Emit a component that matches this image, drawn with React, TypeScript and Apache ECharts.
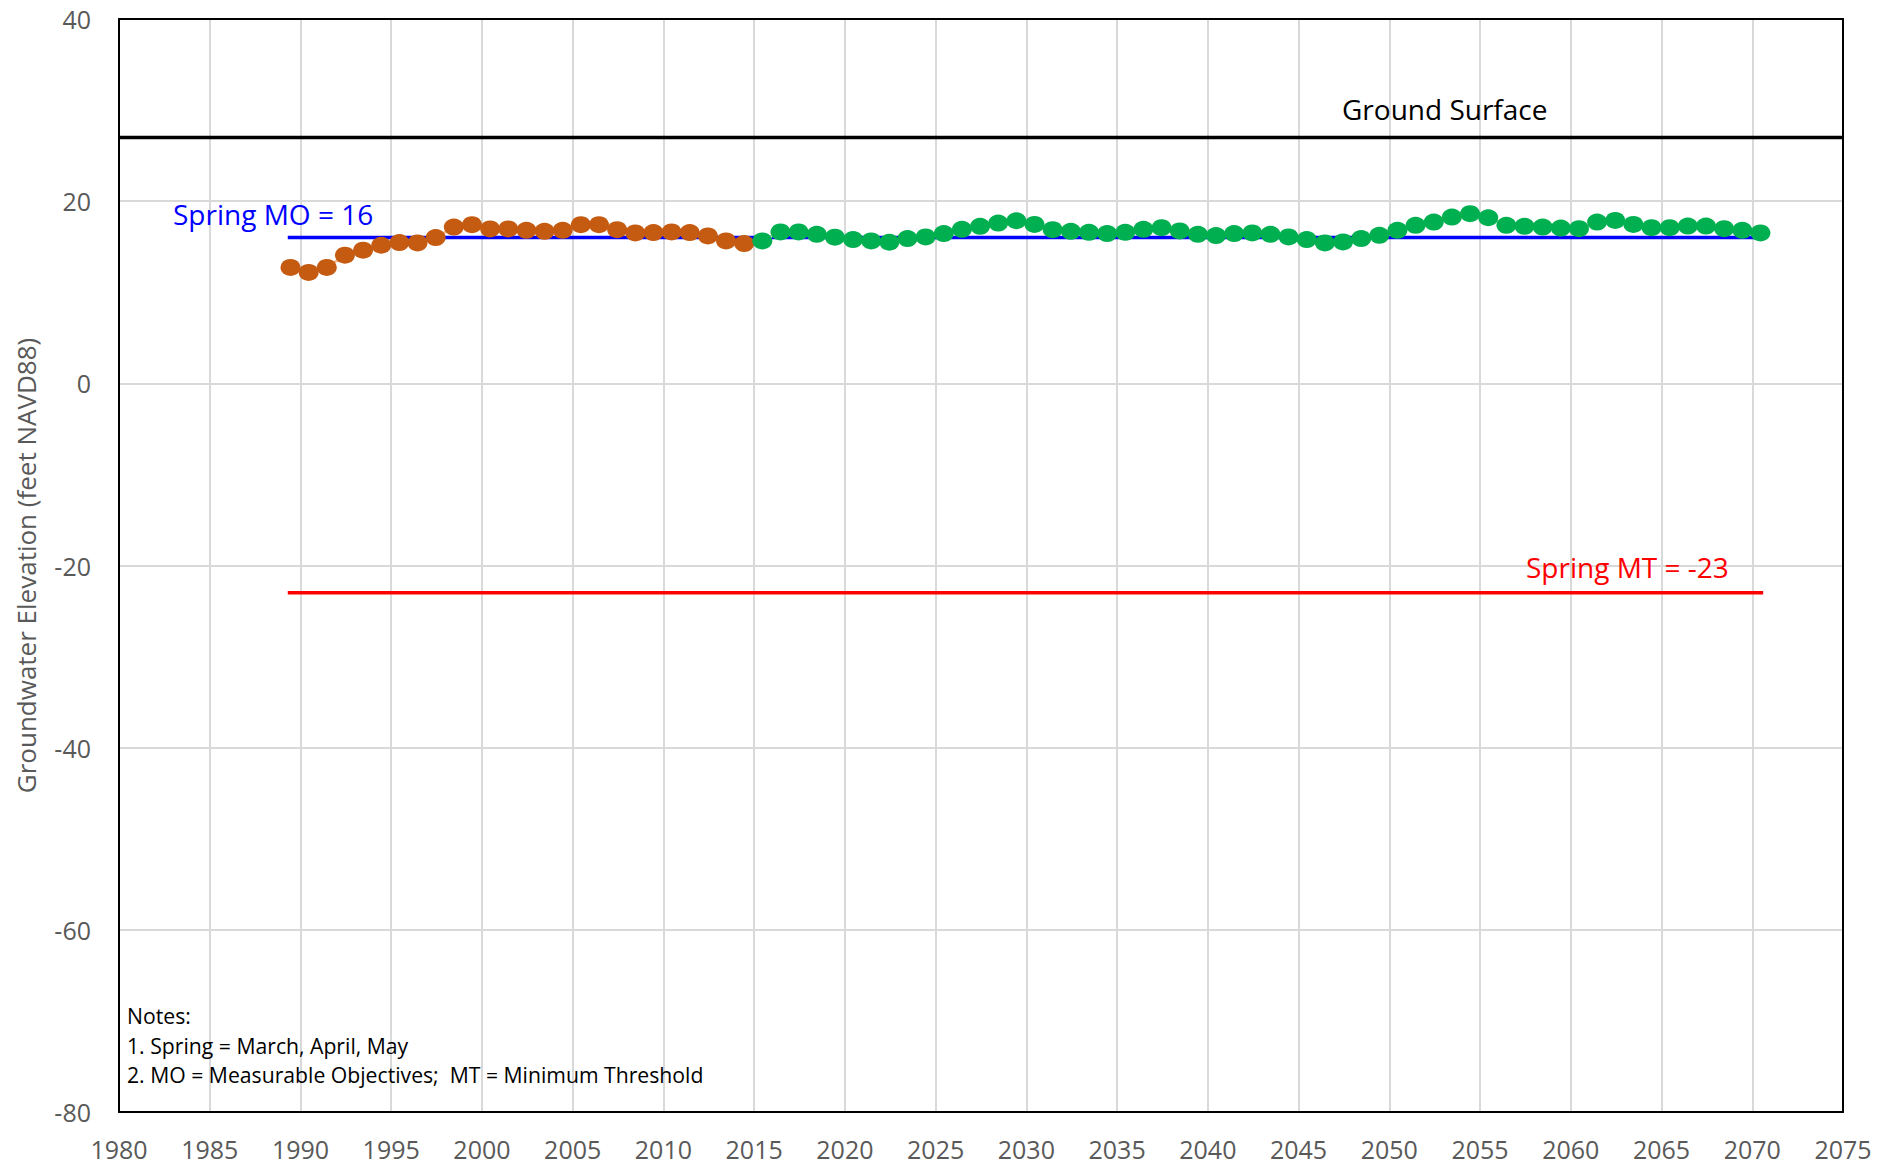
import React, { useEffect, useRef } from "react";
import * as echarts from "echarts";

// ---- Data ----
const historicalYears: number[] = [
  1989, 1990, 1991, 1992, 1993, 1994, 1995, 1996, 1997, 1998, 1999, 2000, 2001,
  2002, 2003, 2004, 2005, 2006, 2007, 2008, 2009, 2010, 2011, 2012, 2013, 2014,
];
const historicalValues: number[] = [
  12.73, 12.18, 12.73, 14.07, 14.62, 15.16, 15.45, 15.42, 16.0, 17.16, 17.42, 16.95, 16.95,
  16.8, 16.69, 16.8, 17.42, 17.42, 16.87, 16.51, 16.55, 16.62, 16.55, 16.18, 15.64, 15.35,
];
const projectedYears: number[] = [
  2015, 2016, 2017, 2018, 2019, 2020, 2021, 2022, 2023, 2024, 2025, 2026, 2027, 2028,
  2029, 2030, 2031, 2032, 2033, 2034, 2035, 2036, 2037, 2038, 2039, 2040, 2041, 2042,
  2043, 2044, 2045, 2046, 2047, 2048, 2049, 2050, 2051, 2052, 2053, 2054, 2055, 2056,
  2057, 2058, 2059, 2060, 2061, 2062, 2063, 2064, 2065, 2066, 2067, 2068, 2069, 2070,
];
const projectedValues: number[] = [
  15.64, 16.62, 16.62, 16.36, 16.04, 15.78, 15.64, 15.49, 15.89, 16.07, 16.44, 16.91, 17.24, 17.6,
  17.85, 17.45, 16.87, 16.69, 16.58, 16.44, 16.58, 16.91, 17.09, 16.73, 16.36, 16.22, 16.44, 16.51,
  16.36, 16.07, 15.78, 15.42, 15.53, 15.89, 16.25, 16.8, 17.35, 17.71, 18.25, 18.62, 18.18, 17.35,
  17.24, 17.16, 17.05, 16.98, 17.71, 17.89, 17.45, 17.09, 17.09, 17.27, 17.27, 16.98, 16.8, 16.51,
];
// Spring measurements fall part-way into each year
const sampleOffset = 0.45;

const groundSurface = 27;
const springMO = 16;
const springMT = -23;
const thresholdStart = 1989.3;
const thresholdEnd = 2070.6;

const xTicks = { min: 1980, max: 2075, interval: 5 };
const yTicks = { min: -80, max: 40, interval: 20 };

const notes: string[] = [
  "Notes:",
  "1. Spring = March, April, May",
  "2. MO = Measurable Objectives;  MT = Minimum Threshold",
];

const FONT = "'Open Sans', 'Noto Sans', sans-serif";

export default function App() {
  const ref = useRef<HTMLDivElement>(null);

  useEffect(() => {
    if (!ref.current) return;
    const chart = echarts.init(ref.current, null, { renderer: "svg" });

    const hist = historicalYears.map((y, i) => [y + sampleOffset, historicalValues[i]]);
    const proj = projectedYears.map((y, i) => [y + sampleOffset, projectedValues[i]]);

    const borderAxis = {
      type: "value",
      axisLine: { show: true, onZero: false, lineStyle: { color: "#000000", width: 2 } },
      axisTick: { show: false },
      axisLabel: { show: false },
      splitLine: { show: false },
    };

    const option: any = {
      animation: false,
      backgroundColor: "#ffffff",
      grid: {
        left: 119,
        right: 53,
        top: 19,
        bottom: 55,
        containLabel: false,
      },
      xAxis: [
        {
          type: "value",
          min: xTicks.min,
          max: xTicks.max,
          interval: xTicks.interval,
          position: "bottom",
          axisLine: { show: true, onZero: false, lineStyle: { color: "#000000", width: 2 } },
          axisTick: { show: false },
          axisLabel: {
            color: "#595959",
            fontFamily: FONT,
            fontSize: 25,
            margin: 24,
            formatter: (v: number) => String(v),
          },
          splitLine: { show: true, lineStyle: { color: "#d9d9d9", width: 2 } },
          z: 1,
        },
        { ...borderAxis, position: "top", min: xTicks.min, max: xTicks.max, z: 2 },
      ],
      yAxis: [
        {
          type: "value",
          min: yTicks.min,
          max: yTicks.max,
          interval: yTicks.interval,
          position: "left",
          name: "Groundwater Elevation (feet NAVD88)",
          nameLocation: "middle",
          nameGap: 80,
          nameTextStyle: { color: "#595959", fontFamily: FONT, fontSize: 26 },
          axisLine: { show: true, onZero: false, lineStyle: { color: "#000000", width: 2 } },
          axisTick: { show: false },
          axisLabel: { color: "#595959", fontFamily: FONT, fontSize: 25, margin: 28 },
          splitLine: { show: true, lineStyle: { color: "#d9d9d9", width: 2 } },
          z: 1,
        },
        { ...borderAxis, position: "right", min: yTicks.min, max: yTicks.max, z: 2 },
      ],
      series: [
        {
          name: "Ground Surface",
          type: "line",
          data: [
            [xTicks.min, groundSurface],
            [xTicks.max, groundSurface],
          ],
          symbol: "none",
          lineStyle: { color: "#000000", width: 3.5 },
          z: 3,
        },
        {
          name: "Spring MO",
          type: "line",
          data: [
            [thresholdStart, springMO],
            [thresholdEnd, springMO],
          ],
          symbol: "none",
          lineStyle: { color: "#0000ff", width: 3.5 },
          z: 3,
        },
        {
          name: "Spring MT",
          type: "line",
          data: [
            [thresholdStart, springMT],
            [thresholdEnd, springMT],
          ],
          symbol: "none",
          lineStyle: { color: "#ff0000", width: 3.5 },
          z: 3,
        },
        {
          name: "Historical",
          type: "line",
          data: hist,
          symbol: "circle",
          symbolSize: [20, 17],
          itemStyle: { color: "#c55a11" },
          lineStyle: { color: "#f4b183", width: 2.5 },
          z: 4,
        },
        {
          name: "Projected",
          type: "line",
          data: proj,
          symbol: "circle",
          symbolSize: [20, 17],
          itemStyle: { color: "#00b050" },
          lineStyle: { color: "#c5e0b4", width: 2.5 },
          z: 4,
        },
      ],
      graphic: [
        {
          type: "text",
          left: 1342,
          top: 95,
          style: { text: "Ground Surface", fill: "#000000", font: `28px ${FONT}` },
          z: 10,
        },
        {
          type: "text",
          left: 173,
          top: 200,
          style: { text: "Spring MO = 16", fill: "#0000ff", font: `28px ${FONT}` },
          z: 10,
        },
        {
          type: "text",
          left: 1526,
          top: 553,
          style: { text: "Spring MT = -23", fill: "#ff0000", font: `28px ${FONT}` },
          z: 10,
        },
        ...notes.map((t, i) => ({
          type: "text",
          left: 127,
          top: 1005 + i * 29.5,
          style: { text: t, fill: "#000000", font: `21.2px ${FONT}` },
          z: 10,
        })),
      ],
    };

    chart.setOption(option);
    return () => chart.dispose();
  }, []);

  return (
    <div
      ref={ref}
      style={{ position: "absolute", left: 0, top: 0, width: 1896, height: 1167 }}
    />
  );
}
